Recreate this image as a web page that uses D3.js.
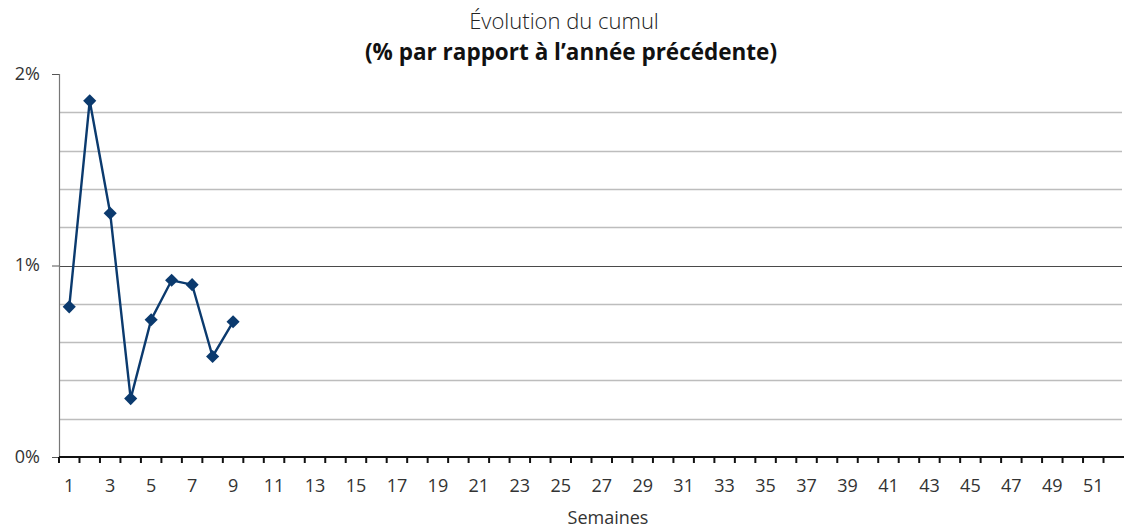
<!DOCTYPE html>
<html>
<head>
<meta charset="utf-8">
<script src="https://cdn.jsdelivr.net/npm/d3@7"></script>
<style>
  body { margin: 0; background: #fff; }
  text { font-family: "Open Sans", "Noto Sans", sans-serif; }
</style>
</head>
<body>
<div id="chart"></div>
<script>
// data
var weeks = d3.range(1, 53);
var pointWeeks = [1, 2, 3, 4, 5, 6, 7, 8, 9];
var pointValues = [0.784, 1.860, 1.273, 0.305, 0.717, 0.923, 0.900, 0.525, 0.706];
var yTicks = [0, 1, 2];
var gridValues = [0.2, 0.4, 0.6, 0.8, 1, 1.2, 1.4, 1.6, 1.8];
var titleLines = ["Évolution du cumul", "(% par rapport à l’année précédente)"];
var xLabel = "Semaines";

var W = 1124, H = 529;
var margin = { top: 74, right: 0, bottom: 72, left: 59 };
var width = W - margin.left - margin.right;
var height = H - margin.top - margin.bottom;

var root = d3.select("#chart")
    .append("svg")
    .attr("width", W)
    .attr("height", H);

var svg = root.append("g")
    .attr("transform", `translate(${margin.left}, ${margin.top})`);

// X
var x = d3.scaleBand()
    .domain(weeks)
    .range([0, width])
    .padding(0);

// Y
var y = d3.scaleLinear()
    .domain([0, 2])
    .range([height, 0]);

// gridlines
svg.append("g")
    .selectAll("line")
    .data(gridValues)
    .enter()
    .append("line")
    .attr("x1", 0)
    .attr("x2", width - 2)
    .attr("y1", d => Math.round(y(d)) + 0.5)
    .attr("y2", d => Math.round(y(d)) + 0.5)
    .style("stroke", d => d === 1 ? "#4a4a4a" : "#bdbdbd")
    .style("stroke-width", d => d === 1 ? 1 : 1.5);

// y axis
var yAxis = svg.append("g")
    .call(d3.axisLeft(y).tickValues(yTicks).tickSize(7).tickPadding(12).tickFormat(d => d + "%"));
yAxis.select(".domain").style("stroke", "#777").style("stroke-width", 1.2);
yAxis.selectAll(".tick line").style("stroke", "#555");
yAxis.selectAll("text")
    .style("font-size", "18px")
    .style("fill", "#333")
    .attr("dy", "0.3em");

// x axis: ticks at the category boundaries
var xAxisG = svg.append("g")
    .attr("transform", `translate(0, ${height})`);
xAxisG.append("line")
    .attr("x1", 0).attr("x2", width)
    .style("stroke", "#111").style("stroke-width", 2);
xAxisG.selectAll(".bound")
    .data(weeks)
    .enter()
    .append("line")
    .attr("x1", d => x(d)).attr("x2", d => x(d))
    .attr("y1", 0).attr("y2", 6)
    .style("stroke", "#111").style("stroke-width", 2);
xAxisG.selectAll(".lbl")
    .data(weeks.filter(d => d % 2 === 1))
    .enter()
    .append("text")
    .attr("x", d => x(d) + x.bandwidth() / 2)
    .attr("y", 35)
    .attr("text-anchor", "middle")
    .style("font-size", "18px")
    .style("fill", "#333")
    .text(d => d);

// line
var pts = pointWeeks.map((w, i) => [w, pointValues[i]]);
var line = d3.line()
    .x(d => x(d[0]) + x.bandwidth() / 2)
    .y(d => y(d[1]));

svg.append("path")
    .datum(pts)
    .attr("d", line)
    .style("fill", "none")
    .style("stroke", "#0b3a6e")
    .style("stroke-width", 2.4);

svg.append("g")
    .selectAll("path")
    .data(pts)
    .enter()
    .append("path")
    .attr("d", d3.symbol().type(d3.symbolDiamond2).size(110))
    .attr("transform", d => `translate(${x(d[0]) + x.bandwidth() / 2}, ${y(d[1])})`)
    .style("fill", "#0b3a6e");

// titles
root.append("text")
    .attr("x", 564).attr("y", 29)
    .attr("text-anchor", "middle")
    .style("font-size", "22px")
    .style("font-weight", 300)
    .style("fill", "#222")
    .text(titleLines[0]);
root.append("text")
    .attr("x", 571).attr("y", 60)
    .attr("text-anchor", "middle")
    .style("font-size", "22.5px")
    .style("font-weight", 700)
    .style("fill", "#111")
    .text(titleLines[1]);

root.append("text")
    .attr("x", 608).attr("y", 524)
    .attr("text-anchor", "middle")
    .style("font-size", "18px")
    .style("fill", "#333")
    .text(xLabel);
</script>
</body>
</html>
